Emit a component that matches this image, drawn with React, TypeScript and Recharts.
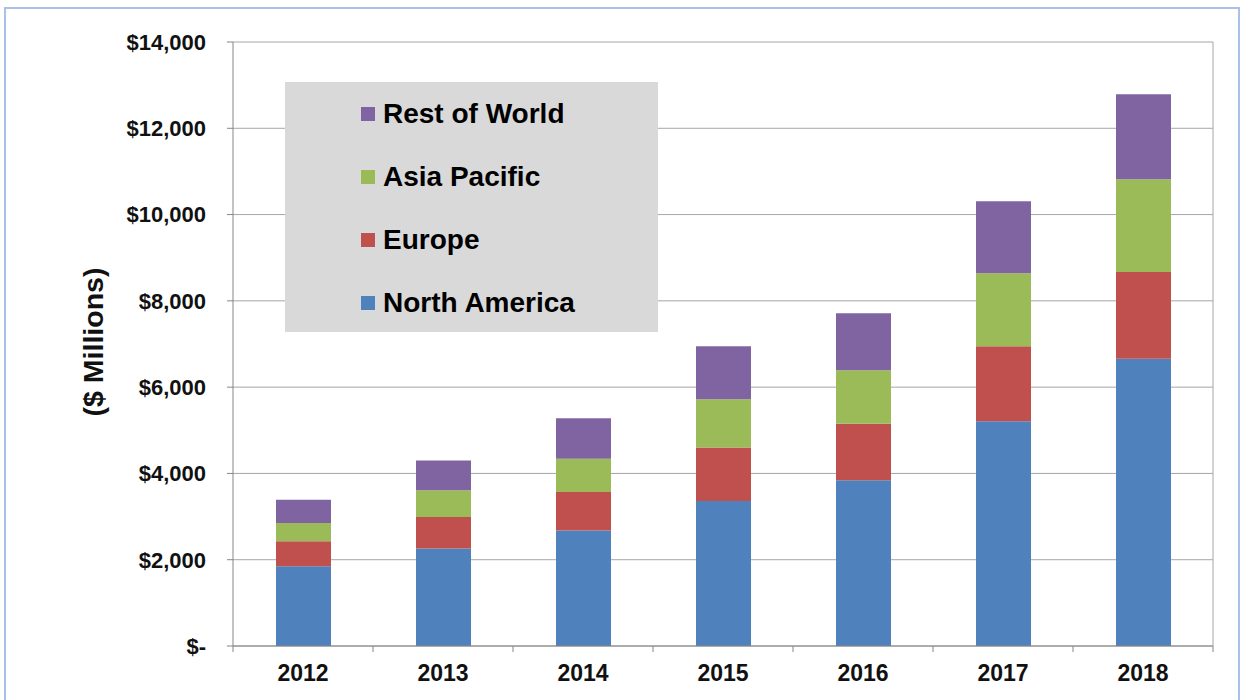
import React from "react";
import { BarChart, Bar, XAxis, YAxis, CartesianGrid, Legend } from "recharts";

const categories = ["2012", "2013", "2014", "2015", "2016", "2017", "2018"];
const northAmerica = [1850, 2260, 2680, 3360, 3840, 5210, 6660];
const europe = [580, 730, 890, 1240, 1310, 1740, 2010];
const asiaPacific = [420, 620, 770, 1120, 1240, 1690, 2150];
const restOfWorld = [540, 690, 940, 1230, 1320, 1670, 1970];
const yTicks = [0, 2000, 4000, 6000, 8000, 10000, 12000, 14000];

const series = [
  { key: "na", name: "North America", values: northAmerica, color: "#4f81bd" },
  { key: "eu", name: "Europe", values: europe, color: "#c0504d" },
  { key: "ap", name: "Asia Pacific", values: asiaPacific, color: "#9bbb59" },
  { key: "row", name: "Rest of World", values: restOfWorld, color: "#8064a2" },
];

const data = categories.map((year, i) => {
  const row: Record<string, string | number> = { year };
  series.forEach((s) => (row[s.key] = s.values[i]));
  return row;
});

const FONT = "'Liberation Sans', Arial, sans-serif";
const TICK_MARGIN = 13;
const TICK_SIZE = 6;

const fmtMoney = (v: number) => (v === 0 ? "$-" : "$" + v.toLocaleString("en-US"));

function YearTick(props: any) {
  const { x, y, payload, index } = props;
  const half = payload?.offset ?? 70;
  const axisY = y - TICK_MARGIN - TICK_SIZE;
  return (
    <g>
      <line x1={x - half} x2={x - half} y1={axisY} y2={axisY + TICK_SIZE} stroke="#868686" />
      {index === categories.length - 1 && (
        <line x1={x + half} x2={x + half} y1={axisY} y2={axisY + TICK_SIZE} stroke="#868686" />
      )}
      <text x={x} y={y} dy="0.71em" textAnchor="middle" fill="#111" fontSize={23} fontWeight="bold" fontFamily={FONT}>
        {payload.value}
      </text>
    </g>
  );
}

// legend lists the stack top-down, like the source
function LegendBox() {
  const items = [...series].reverse();
  return (
    <div style={{ background: "#d9d9d9", width: 373, height: 250, boxSizing: "border-box" }}>
      {items.map((it) => (
        <div key={it.key} style={{ display: "flex", alignItems: "center", height: 63, paddingLeft: 76 }}>
          <span style={{ width: 14, height: 14, background: it.color, marginRight: 8, flex: "none" }} />
          <span style={{ fontFamily: FONT, fontWeight: "bold", fontSize: 28, color: "#000" }}>{it.name}</span>
        </div>
      ))}
    </div>
  );
}

export default function App() {
  return (
    <div style={{ position: "absolute", left: 0, top: 0, width: 1244, height: 700, background: "#fff", overflow: "hidden" }}>
      <div
        style={{
          position: "absolute",
          left: 4,
          top: 7,
          width: 1232,
          height: 720,
          border: "2px solid #a9c0ea",
        }}
      />
      <div style={{ position: "absolute", left: 0, top: 0 }}>
        <BarChart width={1244} height={700} data={data} margin={{ top: 42, right: 0, bottom: 0, left: 0 }} barSize={55}>
          <CartesianGrid yAxisId="left" vertical={false} stroke="#a6a6a6" />
          <XAxis
            dataKey="year"
            height={54}
            tickLine={false}
            tickSize={TICK_SIZE}
            tickMargin={TICK_MARGIN}
            axisLine={{ stroke: "#868686" }}
            tick={<YearTick />}
            interval={0}
          />
          <YAxis
            yAxisId="left"
            width={233}
            domain={[0, 14000]}
            ticks={yTicks}
            interval={0}
            tickFormatter={fmtMoney}
            tickSize={TICK_SIZE}
            tickMargin={21}
            axisLine={{ stroke: "#868686" }}
            tickLine={{ stroke: "#868686" }}
            tick={{ fontSize: 22, fontWeight: "bold", fill: "#111", fontFamily: FONT }}
            label={{
              content: () => (
                <text
                  x={93}
                  y={342}
                  transform="rotate(-90 93 342)"
                  textAnchor="middle"
                  dominantBaseline="central"
                  fontSize={28.5}
                  fontWeight="bold"
                  fontFamily={FONT}
                  fill="#111"
                >
                  ($ Millions)
                </text>
              ),
            }}
          />
          <YAxis
            yAxisId="right"
            orientation="right"
            width={31}
            domain={[0, 14000]}
            tick={false}
            tickLine={false}
            axisLine={{ stroke: "#a6a6a6" }}
          />
          <Legend
            layout="vertical"
            align="center"
            verticalAlign="middle"
            content={<LegendBox />}
            wrapperStyle={{ left: 285, top: 82, width: 373, height: 250 }}
          />
          {series.map((s) => (
            <Bar key={s.key} yAxisId="left" dataKey={s.key} name={s.name} stackId="a" fill={s.color} isAnimationActive={false} />
          ))}
        </BarChart>
      </div>
    </div>
  );
}
